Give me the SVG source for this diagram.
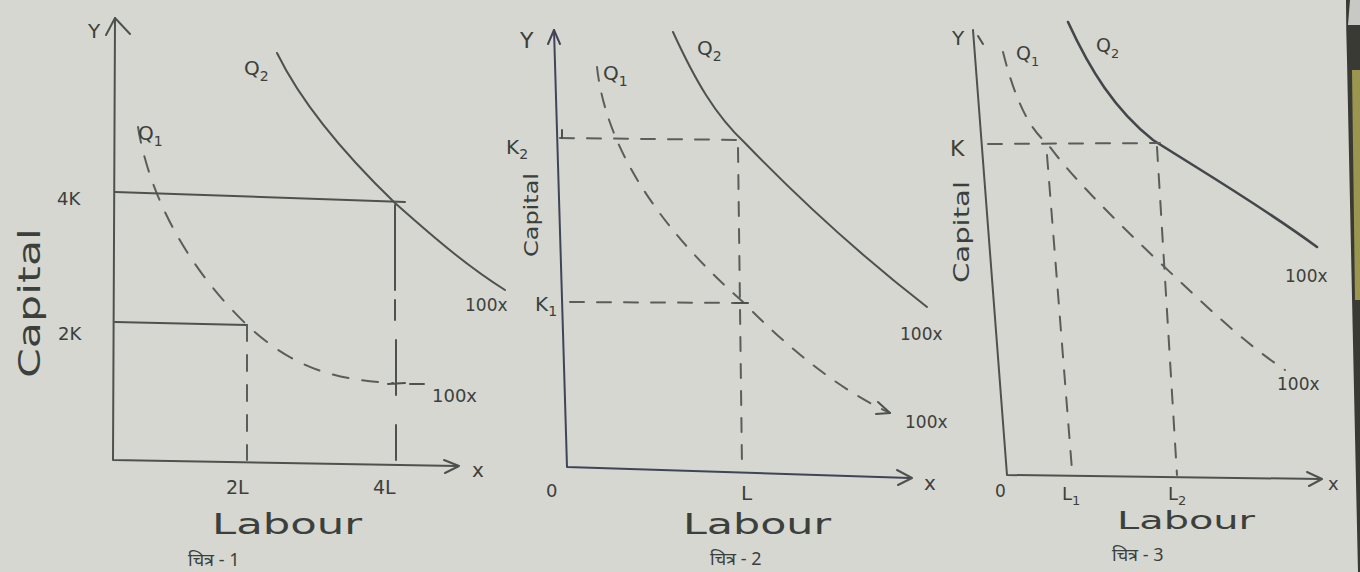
<svg xmlns="http://www.w3.org/2000/svg" width="1360" height="572" viewBox="0 0 1360 572">
<style>
.ln{fill:none;stroke:#4e524e;stroke-width:2;stroke-linecap:round;stroke-linejoin:round}
.ds{fill:none;stroke:#5a5e5a;stroke-width:2;stroke-dasharray:16 14;stroke-linecap:round}
.dc{fill:none;stroke:#5a5e5a;stroke-width:2;stroke-dasharray:14 13;stroke-linecap:round}
.t{font-family:"DejaVu Sans","Liberation Sans",sans-serif;fill:#3c403c}
.lab{font-family:"DejaVu Sans","Liberation Sans",sans-serif;fill:#3c403c;font-size:28px}
.hi{font-family:"Noto Sans","Noto Sans Devanagari","Lohit Devanagari","FreeSans",sans-serif;fill:#3c403c;font-size:18px}
</style>
<rect width="1360" height="572" fill="#d6d7d0"/>
<path d="M1346,0 L1360,0 L1360,572 L1358,572 Q1352,300 1347,60 Q1346,30 1346,0 Z" fill="#3a3a34"/>
<path d="M1350,0 L1360,0 L1360,25 L1348,25 Z" fill="#c8c9c4"/>
<path d="M1352,70 L1360,70 L1360,300 L1355,300 Z" fill="#9a9650"/>

<g id="fig1">
  <g id="fig1-axes">
    <path class="ln" d="M115,18 L113,460 L458,466"/>
    <path class="ln" d="M106,35 L115,18 L130,34"/>
    <path class="ln" d="M444,460 L459,466 L445,473"/>
  </g>
  <g id="fig1-curves">
    <path class="ln" d="M277,53 C300,100 340,150 395,203 C440,243 470,268 505,290"/>
    <path class="ds" d="M138,127 C150,200 190,270 247,325 C290,365 330,380 393,383"/>
    <path class="ln" d="M410,384 L424,384"/>
  </g>
  <g id="fig1-guides">
    <path class="ln" d="M115,192 L405,202"/>
    <path class="ln" d="M115,322 L247,325"/>
    <path class="ds" d="M247,325 L247,460"/>
    <path class="ln" d="M395,205 L395,290 M395,300 L395,320 M396,340 L396,395 M396,425 L396,460 M388,384 L405,383"/>
  </g>
  <g id="fig1-labels">
    <text class="t" x="88" y="38" font-size="20">Y</text>
    <text class="t" x="244" y="75" font-size="20">Q<tspan font-size="14" dy="6">2</tspan></text>
    <text class="t" x="138" y="140" font-size="20">Q<tspan font-size="14" dy="6">1</tspan></text>
    <text class="t" x="57" y="205" font-size="18">4K</text>
    <text class="t" x="58" y="340" font-size="18">2K</text>
    <text class="t" x="432" y="402" font-size="18">100x</text>
    <text class="t" x="472" y="477" font-size="20">x</text>
    <text class="t" x="226" y="494" font-size="19">2L</text>
    <text class="t" x="373" y="494" font-size="19">4L</text>
    <text class="lab" x="212" y="534" textLength="150" lengthAdjust="spacingAndGlyphs">Labour</text>
    <text class="hi" x="188" y="566">चित्र - 1</text>
    <text class="t" font-size="30" transform="translate(40,303) rotate(-90)" text-anchor="middle" textLength="150" lengthAdjust="spacingAndGlyphs">Capital</text>
  </g>
</g>

<g id="fig2">
  <g id="fig2-axes">
    <path class="ln" d="M554,30 L567,467 L910,478" style="stroke:#404458"/>
    <path class="ln" d="M548,44 L554,30 L560,44" style="stroke:#404458"/>
    <path class="ln" d="M897,470 L912,478 L898,485"/>
  </g>
  <g id="fig2-curves">
    <path class="ln" d="M673,32 C695,80 715,115 745,143 C800,200 860,255 927,307"/>
    <path class="dc" d="M597,67 C605,140 650,220 743,302 C790,350 840,390 890,413"/>
    <path class="ln" d="M878,402 L890,413 L876,414"/>
  </g>
  <g id="fig2-guides">
    <path class="dc" d="M560,138 L745,140"/>
    <path class="ln" d="M562,130 L562,138"/>
    <path class="dc" d="M738,148 L742,467"/>
    <path class="dc" d="M570,302 L745,303"/>
    <path class="ln" d="M735,303 L748,303"/>
  </g>
  <g id="fig2-labels">
    <text class="t" x="520" y="48" font-size="22">Y</text>
    <text class="t" x="603" y="80" font-size="20">Q<tspan font-size="14" dy="6">1</tspan></text>
    <text class="t" x="697" y="55" font-size="20">Q<tspan font-size="14" dy="6">2</tspan></text>
    <text class="t" x="506" y="154" font-size="20">K<tspan font-size="14" dy="5">2</tspan></text>
    <text class="t" x="465" y="311" font-size="17">100x</text>
    <text class="t" x="535" y="311" font-size="20">K<tspan font-size="14" dy="5">1</tspan></text>
    <text class="t" x="900" y="340" font-size="17">100x</text>
    <text class="t" x="905" y="428" font-size="17">100x</text>
    <text class="t" x="924" y="490" font-size="20">x</text>
    <text class="t" x="546" y="497" font-size="18">0</text>
    <text class="t" x="741" y="500" font-size="20">L</text>
    <text class="lab" x="683" y="534" textLength="148" lengthAdjust="spacingAndGlyphs">Labour</text>
    <text class="hi" x="710" y="565">चित्र - 2</text>
    <text class="t" font-size="20" transform="translate(538,215) rotate(-90)" text-anchor="middle" textLength="84" lengthAdjust="spacingAndGlyphs">Capital</text>
  </g>
</g>

<g id="fig3">
  <g id="fig3-axes">
    <path class="ln" d="M973,30 L1007,475 L1320,479"/>
    <path class="ln" d="M1307,472 L1322,479 L1309,486"/>
    <path class="ln" d="M978,36 L983,44"/>
  </g>
  <g id="fig3-curves">
    <path class="ln" d="M1068,22 C1090,70 1115,110 1153,140 C1200,170 1260,205 1317,247" style="stroke-width:2.6;stroke:#43474a"/>
    <path class="dc" d="M1003,52 C1015,100 1030,130 1047,143 C1070,175 1110,215 1157,260 C1200,300 1240,340 1285,370"/>
  </g>
  <g id="fig3-guides">
    <path class="dc" d="M988,144 L1160,143"/>
    <path class="dc" d="M1047,155 L1072,470"/>
    <path class="dc" d="M1157,147 L1177,475"/>
  </g>
  <g id="fig3-labels">
    <text class="t" x="952" y="45" font-size="20">Y</text>
    <text class="t" x="1016" y="60" font-size="19">Q<tspan font-size="13" dy="6">1</tspan></text>
    <text class="t" x="1096" y="52" font-size="19">Q<tspan font-size="13" dy="6">2</tspan></text>
    <text class="t" x="950" y="156" font-size="22">K</text>
    <text class="t" x="1285" y="282" font-size="17">100x</text>
    <text class="t" x="1277" y="390" font-size="17">100x</text>
    <text class="t" x="1328" y="490" font-size="18">x</text>
    <text class="t" x="995" y="497" font-size="17">0</text>
    <text class="t" x="1062" y="500" font-size="18">L<tspan font-size="13" dy="5">1</tspan></text>
    <text class="t" x="1168" y="500" font-size="18">L<tspan font-size="13" dy="5">2</tspan></text>
    <text class="t" font-size="25" x="1117" y="529" textLength="138" lengthAdjust="spacingAndGlyphs">Labour</text>
    <text class="hi" x="1112" y="561">चित्र - 3</text>
    <text class="t" font-size="21" transform="translate(969,232) rotate(-90)" text-anchor="middle" textLength="102" lengthAdjust="spacingAndGlyphs">Capital</text>
  </g>
</g>
</svg>
